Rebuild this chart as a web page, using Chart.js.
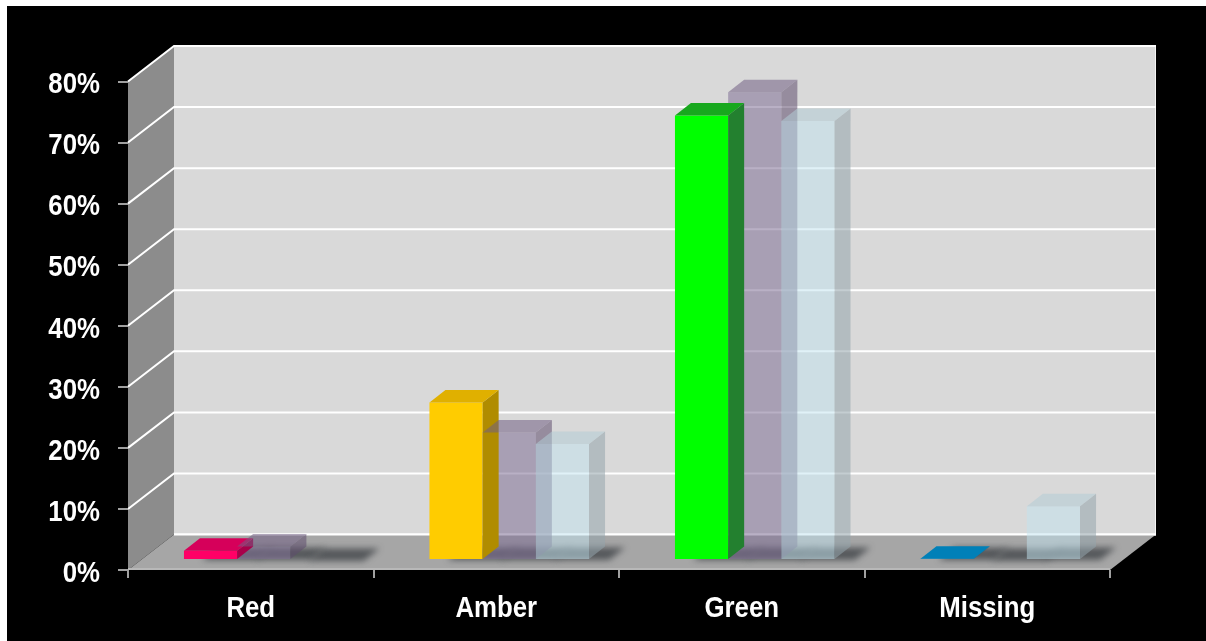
<!DOCTYPE html>
<html>
<head>
<meta charset="utf-8">
<title>RAG status</title>
<script src="https://cdn.jsdelivr.net/npm/chart.js@4.4.1/dist/chart.umd.min.js"></script>
<style>
  html, body { margin: 0; padding: 0; background: #fff; }
  canvas { display: block; }
</style>
</head>
<body>
<canvas id="statusChart" width="1206" height="641"></canvas>
<script>
// Categories along the x axis
const categories = ['Red', 'Amber', 'Green', 'Missing'];

// Three series, percentages
const seriesCurrent = [1.5, 25.8, 72.8, 0.2];
const seriesPrevious = [2.2, 20.9, 76.6, 0];
const seriesBaseline = [0, 19.0, 71.9, 8.8];

// Value axis
const yMin = 0;
const yMax = 80;
const yStep = 10;

// 3D look (pixels)
const WALL_DX = 46, WALL_DY = -35.5;     // full depth of the box
const BAR_DX = 13, BAR_DY = -10;         // where the bar row sits in the depth
const FACE_DX = 16, FACE_DY = -12.5;     // depth of one bar

const fontFamily = "'Liberation Sans', Arial, sans-serif";
const labelSize = 30;
const squeeze = 0.86;   // labels in the original are a condensed bold face

// face colours: front, side, top
const faceColors = [
    {
        front: ['#ff0066', '#ffcc00', '#00ff00', '#0099d8'],
        side: ['#a8004a', '#b08c00', '#23802f', '#006a99'],
        top: ['#d6005a', '#e0b000', '#18a81e', '#0080b8']
    },
    { front: 'rgba(128,112,150,0.55)', side: 'rgba(95,77,110,0.55)', top: 'rgba(113,95,132,0.55)' },
    { front: 'rgba(193,227,239,0.5)', side: 'rgba(148,164,172,0.55)', top: 'rgba(179,204,213,0.55)' }
];

// paint order of front faces and side/top faces per dataset
const paintOrder = [['front', 0], ['front', 1], ['faces', 0], ['faces', 1], ['front', 2], ['faces', 2]];

function pick(c, i) { return Array.isArray(c) ? c[i] : c; }

function poly(ctx, pts, fill) {
    ctx.beginPath();
    ctx.moveTo(pts[0][0], pts[0][1]);
    for (let k = 1; k < pts.length; k++) ctx.lineTo(pts[k][0], pts[k][1]);
    ctx.closePath();
    ctx.fillStyle = fill;
    ctx.fill();
}

function squeezedText(ctx, text, x, y, align) {
    ctx.save();
    ctx.translate(x, y);
    ctx.scale(squeeze, 1);
    ctx.textAlign = align;
    ctx.textBaseline = 'middle';
    ctx.fillText(text, 0, 0);
    ctx.restore();
}

const boxPlugin = {
    id: 'box3d',
    // background, walls, floor and grid lines
    beforeDraw(chart) {
        const ctx = chart.ctx;
        const a = chart.chartArea;
        const y = chart.scales.y;
        const top = y.getPixelForValue(yMax);
        const bot = y.getPixelForValue(yMin);

        ctx.save();
        ctx.fillStyle = '#fff';
        ctx.fillRect(0, 0, chart.width, chart.height);
        ctx.fillStyle = '#000';
        ctx.fillRect(7, 6, chart.width - 7, chart.height - 6);

        // side wall
        poly(ctx, [[a.left, top], [a.left + WALL_DX, top + WALL_DY], [a.left + WALL_DX, bot + WALL_DY], [a.left, bot]], '#8c8c8c');
        // back wall
        poly(ctx, [[a.left + WALL_DX, top + WALL_DY], [a.right + WALL_DX, top + WALL_DY], [a.right + WALL_DX, bot + WALL_DY], [a.left + WALL_DX, bot + WALL_DY]], '#d9d9d9');
        ctx.strokeStyle = '#f4f4f4';
        ctx.lineWidth = 1;
        ctx.beginPath();
        ctx.moveTo(a.right + WALL_DX - 0.5, top + WALL_DY);
        ctx.lineTo(a.right + WALL_DX - 0.5, bot + WALL_DY);
        ctx.stroke();

        // grid lines on both walls
        ctx.strokeStyle = '#ffffff';
        ctx.lineWidth = 2;
        for (let v = yMin; v <= yMax; v += yStep) {
            const py = y.getPixelForValue(v);
            ctx.beginPath();
            if (v > yMin) ctx.moveTo(a.left, py);
            else ctx.moveTo(a.left + WALL_DX, py + WALL_DY);
            ctx.lineTo(a.left + WALL_DX, py + WALL_DY);
            ctx.lineTo(a.right + WALL_DX, py + WALL_DY);
            ctx.stroke();
        }

        // floor
        poly(ctx, [[a.left, bot], [a.right, bot], [a.right + WALL_DX, bot + WALL_DY], [a.left + WALL_DX, bot + WALL_DY]], '#a6a6a6');
        ctx.strokeStyle = '#b8b8b8';
        ctx.lineWidth = 2;
        ctx.beginPath();
        ctx.moveTo(a.left, bot - 1);
        ctx.lineTo(a.right, bot - 1);
        ctx.stroke();
        ctx.strokeStyle = '#ffffff';
        ctx.beginPath();
        ctx.moveTo(a.left + WALL_DX, bot + WALL_DY);
        ctx.lineTo(a.right + WALL_DX, bot + WALL_DY);
        ctx.stroke();
        ctx.restore();
    },

    // bars: library draws the front face, we add shadow, side and top
    beforeDatasetsDraw(chart) {
        const ctx = chart.ctx;
        const metas = chart.data.datasets.map((ds, i) => chart.getDatasetMeta(i));
        ctx.save();
        ctx.translate(BAR_DX, BAR_DY);

        // soft shadows on the floor
        ctx.save();
        ctx.filter = 'blur(3px)';
        metas.forEach(meta => {
            meta.data.forEach(bar => {
                const l = bar.x - bar.width / 2 + 18, r = bar.x + bar.width / 2 + 20, b = bar.base + 1;
                poly(ctx, [[l, b], [r, b], [r + FACE_DX, b + FACE_DY], [l + FACE_DX, b + FACE_DY]], 'rgba(35,40,45,0.62)');
            });
        });
        ctx.restore();

        paintOrder.forEach(([what, i]) => {
            const meta = metas[i];
            if (what === 'front') {
                meta.data.forEach(bar => bar.draw(ctx, chart.chartArea));
                return;
            }
            const fc = faceColors[i];
            const values = chart.data.datasets[i].data;
            meta.data.forEach((bar, j) => {
                if (!values[j]) return;
                const l = bar.x - bar.width / 2, r = bar.x + bar.width / 2;
                const t = bar.y, b = bar.base;
                poly(ctx, [[r, t], [r + FACE_DX, t + FACE_DY], [r + FACE_DX, b + FACE_DY], [r, b]], pick(fc.side, j));
                poly(ctx, [[l, t], [l + FACE_DX, t + FACE_DY], [r + FACE_DX, t + FACE_DY], [r, t]], pick(fc.top, j));
            });
        });
        ctx.restore();
        return false;
    },

    // tick labels, drawn slightly condensed
    afterDraw(chart) {
        const ctx = chart.ctx;
        const x = chart.scales.x, y = chart.scales.y;
        ctx.save();
        ctx.fillStyle = '#ffffff';
        ctx.font = 'bold ' + labelSize + 'px ' + fontFamily;
        y.ticks.forEach(t => {
            squeezedText(ctx, t.value + '%', 100, y.getPixelForValue(t.value) + 3.5, 'right');
        });
        x.ticks.forEach((t, i) => {
            squeezedText(ctx, categories[t.value], x.getPixelForTick(i), 609, 'center');
        });
        ctx.restore();
    }
};

const ctx = document.getElementById('statusChart').getContext('2d');
new Chart(ctx, {
    type: 'bar',
    data: {
        labels: categories,
        datasets: [
            { label: 'Current', data: seriesCurrent, backgroundColor: faceColors[0].front },
            { label: 'Previous', data: seriesPrevious, backgroundColor: faceColors[1].front },
            { label: 'Baseline', data: seriesBaseline, backgroundColor: faceColors[2].front }
        ]
    },
    options: {
        responsive: false,
        devicePixelRatio: 1,
        animation: false,
        events: [],
        categoryPercentage: 0.65,
        barPercentage: 1,
        layout: { padding: { top: 81.5, right: 96, left: 0, bottom: 0 } },
        plugins: { legend: { display: false }, tooltip: { enabled: false } },
        scales: {
            x: {
                grid: { drawOnChartArea: false, drawTicks: true, tickLength: 8, color: '#a0a0a0', lineWidth: 2 },
                border: { display: false },
                ticks: { color: 'rgba(0,0,0,0)', font: { family: fontFamily, size: labelSize, weight: 'bold' }, padding: 10, maxRotation: 0 },
                afterFit(scale) { scale.height = 71; }
            },
            y: {
                min: yMin,
                max: yMax,
                grid: { drawOnChartArea: false, drawTicks: true, tickLength: 10, color: '#a0a0a0', lineWidth: 2 },
                border: { display: false },
                ticks: {
                    stepSize: yStep,
                    color: 'rgba(0,0,0,0)',
                    font: { family: fontFamily, size: labelSize, weight: 'bold' },
                    padding: 18,
                    callback: v => v + '%'
                },
                afterFit(scale) { scale.width = 128; }
            }
        }
    },
    plugins: [boxPlugin]
});
</script>
</body>
</html>
